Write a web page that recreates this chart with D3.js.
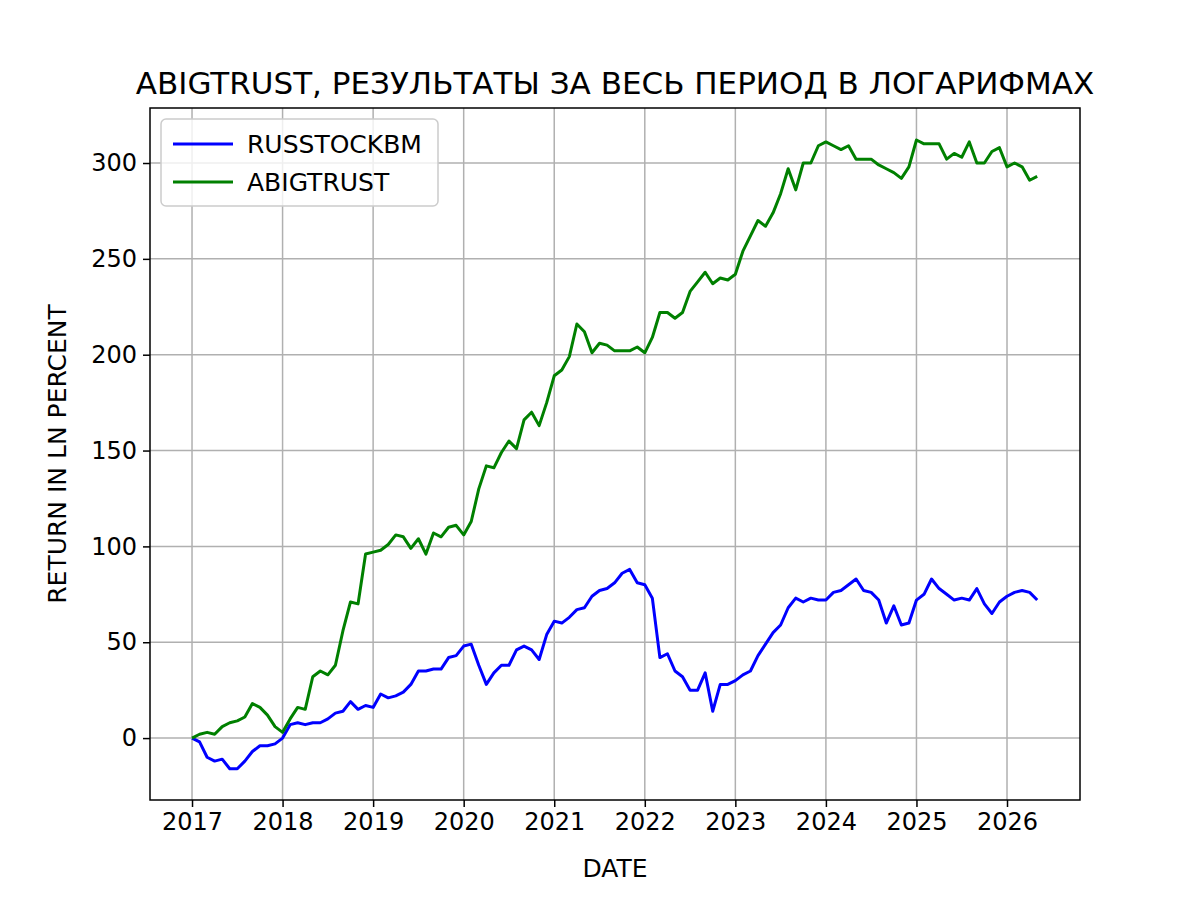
<!DOCTYPE html>
<html><head><meta charset="utf-8">
<script src="https://cdn.jsdelivr.net/npm/d3@7"></script>
<style>body{margin:0;background:#fff}svg{font-family:"DejaVu Sans",sans-serif}</style>
</head><body><svg id="c" width="1200" height="900"></svg>
<script>
const startYear = 2017;
const russ = [0,-2,-10,-12,-11,-16,-16,-12,-7,-4,-4,-3,
0,7,8,7,8,8,10,13,14,19,15,17,
16,23,21,22,24,28,35,35,36,36,42,43,
48,49,38,28,34,38,38,46,48,46,41,54,
61,60,63,67,68,74,77,78,81,86,88,81,
80,73,42,44,35,32,25,25,34,14,28,28,
30,33,35,43,49,55,59,68,73,71,73,72,
72,76,77,80,83,77,76,72,60,69,59,60,
72,75,83,78,75,72,73,72,78,70,65,71,
74,76,77,76,72];
const abig = [0,2,3,2,6,8,9,11,18,16,12,6,
3,10,16,15,32,35,33,38,56,71,70,96,
97,98,101,106,105,99,104,96,107,105,110,111,
106,113,130,142,141,149,155,151,166,170,163,175,
189,192,199,216,212,201,206,205,202,202,202,204,
201,209,222,222,219,222,233,238,243,237,240,239,
242,254,262,270,267,274,284,297,286,300,300,309,
311,309,307,309,302,302,302,299,297,295,292,298,
312,310,310,310,302,305,303,311,300,300,306,308,
298,300,298,291,293];
const yTicks = [0,50,100,150,200,250,300];
const xTicks = [2017,2018,2019,2020,2021,2022,2023,2024,2025,2026];
const series = [{name:"RUSSTOCKBM",values:russ,color:"#0000ff"},{name:"ABIGTRUST",values:abig,color:"#008000"}];

const svg = d3.select("#c");
const L=150,R=1080,T=108,B=800;
const x = d3.scaleLinear().domain([2016.536,2026.806]).range([L,R]);
const y = d3.scaleLinear().domain([-32.3,328.7]).range([B,T]);
const g = svg.append("g");
g.selectAll(".gx").data(xTicks).join("line").attr("x1",d=>x(d)).attr("x2",d=>x(d)).attr("y1",T).attr("y2",B).attr("stroke","#b0b0b0").attr("stroke-width",1.5);
g.selectAll(".gy").data(yTicks).join("line").attr("y1",d=>y(d)).attr("y2",d=>y(d)).attr("x1",L).attr("x2",R).attr("stroke","#b0b0b0").attr("stroke-width",1.5);
const xa = svg.append("g").attr("transform",`translate(0,${B})`).call(d3.axisBottom(x).tickValues(xTicks).tickFormat(d3.format("d")).tickSize(7).tickPadding(6));
const ya = svg.append("g").attr("transform",`translate(${L},0)`).call(d3.axisLeft(y).tickValues(yTicks).tickSize(7).tickPadding(6));
[xa,ya].forEach(a=>{a.select(".domain").remove();a.selectAll("text").attr("font-size",24).attr("fill","#000").attr("font-family","DejaVu Sans");a.selectAll("line").attr("stroke","#000").attr("stroke-width",1.5);});
const line = d3.line().x((d,i)=>x(startYear+i/12)).y(d=>y(d));
series.forEach(s=>svg.append("path").datum(s.values).attr("d",line).attr("fill","none").attr("stroke",s.color).attr("stroke-width",3).attr("stroke-linejoin","round"));
svg.append("rect").attr("x",L).attr("y",T).attr("width",R-L).attr("height",B-T).attr("fill","none").attr("stroke","#000").attr("stroke-width",1.5);
svg.append("text").attr("x",(L+R)/2).attr("y",94).attr("text-anchor","middle").attr("font-size",31).text("ABIGTRUST, РЕЗУЛЬТАТЫ ЗА ВЕСЬ ПЕРИОД В ЛОГАРИФМАХ");
svg.append("text").attr("x",(L+R)/2).attr("y",877).attr("text-anchor","middle").attr("font-size",25).text("DATE");
svg.append("text").attr("transform",`translate(66,${(T+B)/2}) rotate(-90)`).attr("text-anchor","middle").attr("font-size",25).text("RETURN IN LN PERCENT");
const lg = svg.append("g");
lg.append("rect").attr("x",161).attr("y",119).attr("width",277).attr("height",87).attr("rx",5).attr("fill","#fff").attr("fill-opacity",0.8).attr("stroke","#ccc").attr("stroke-width",1.5);
series.forEach((s,i)=>{
  const yy=144+i*38;
  lg.append("line").attr("x1",173).attr("x2",233).attr("y1",yy).attr("y2",yy).attr("stroke",s.color).attr("stroke-width",3);
  lg.append("text").attr("x",247).attr("y",yy+9).attr("font-size",25).text(s.name);
});
</script></body></html>
